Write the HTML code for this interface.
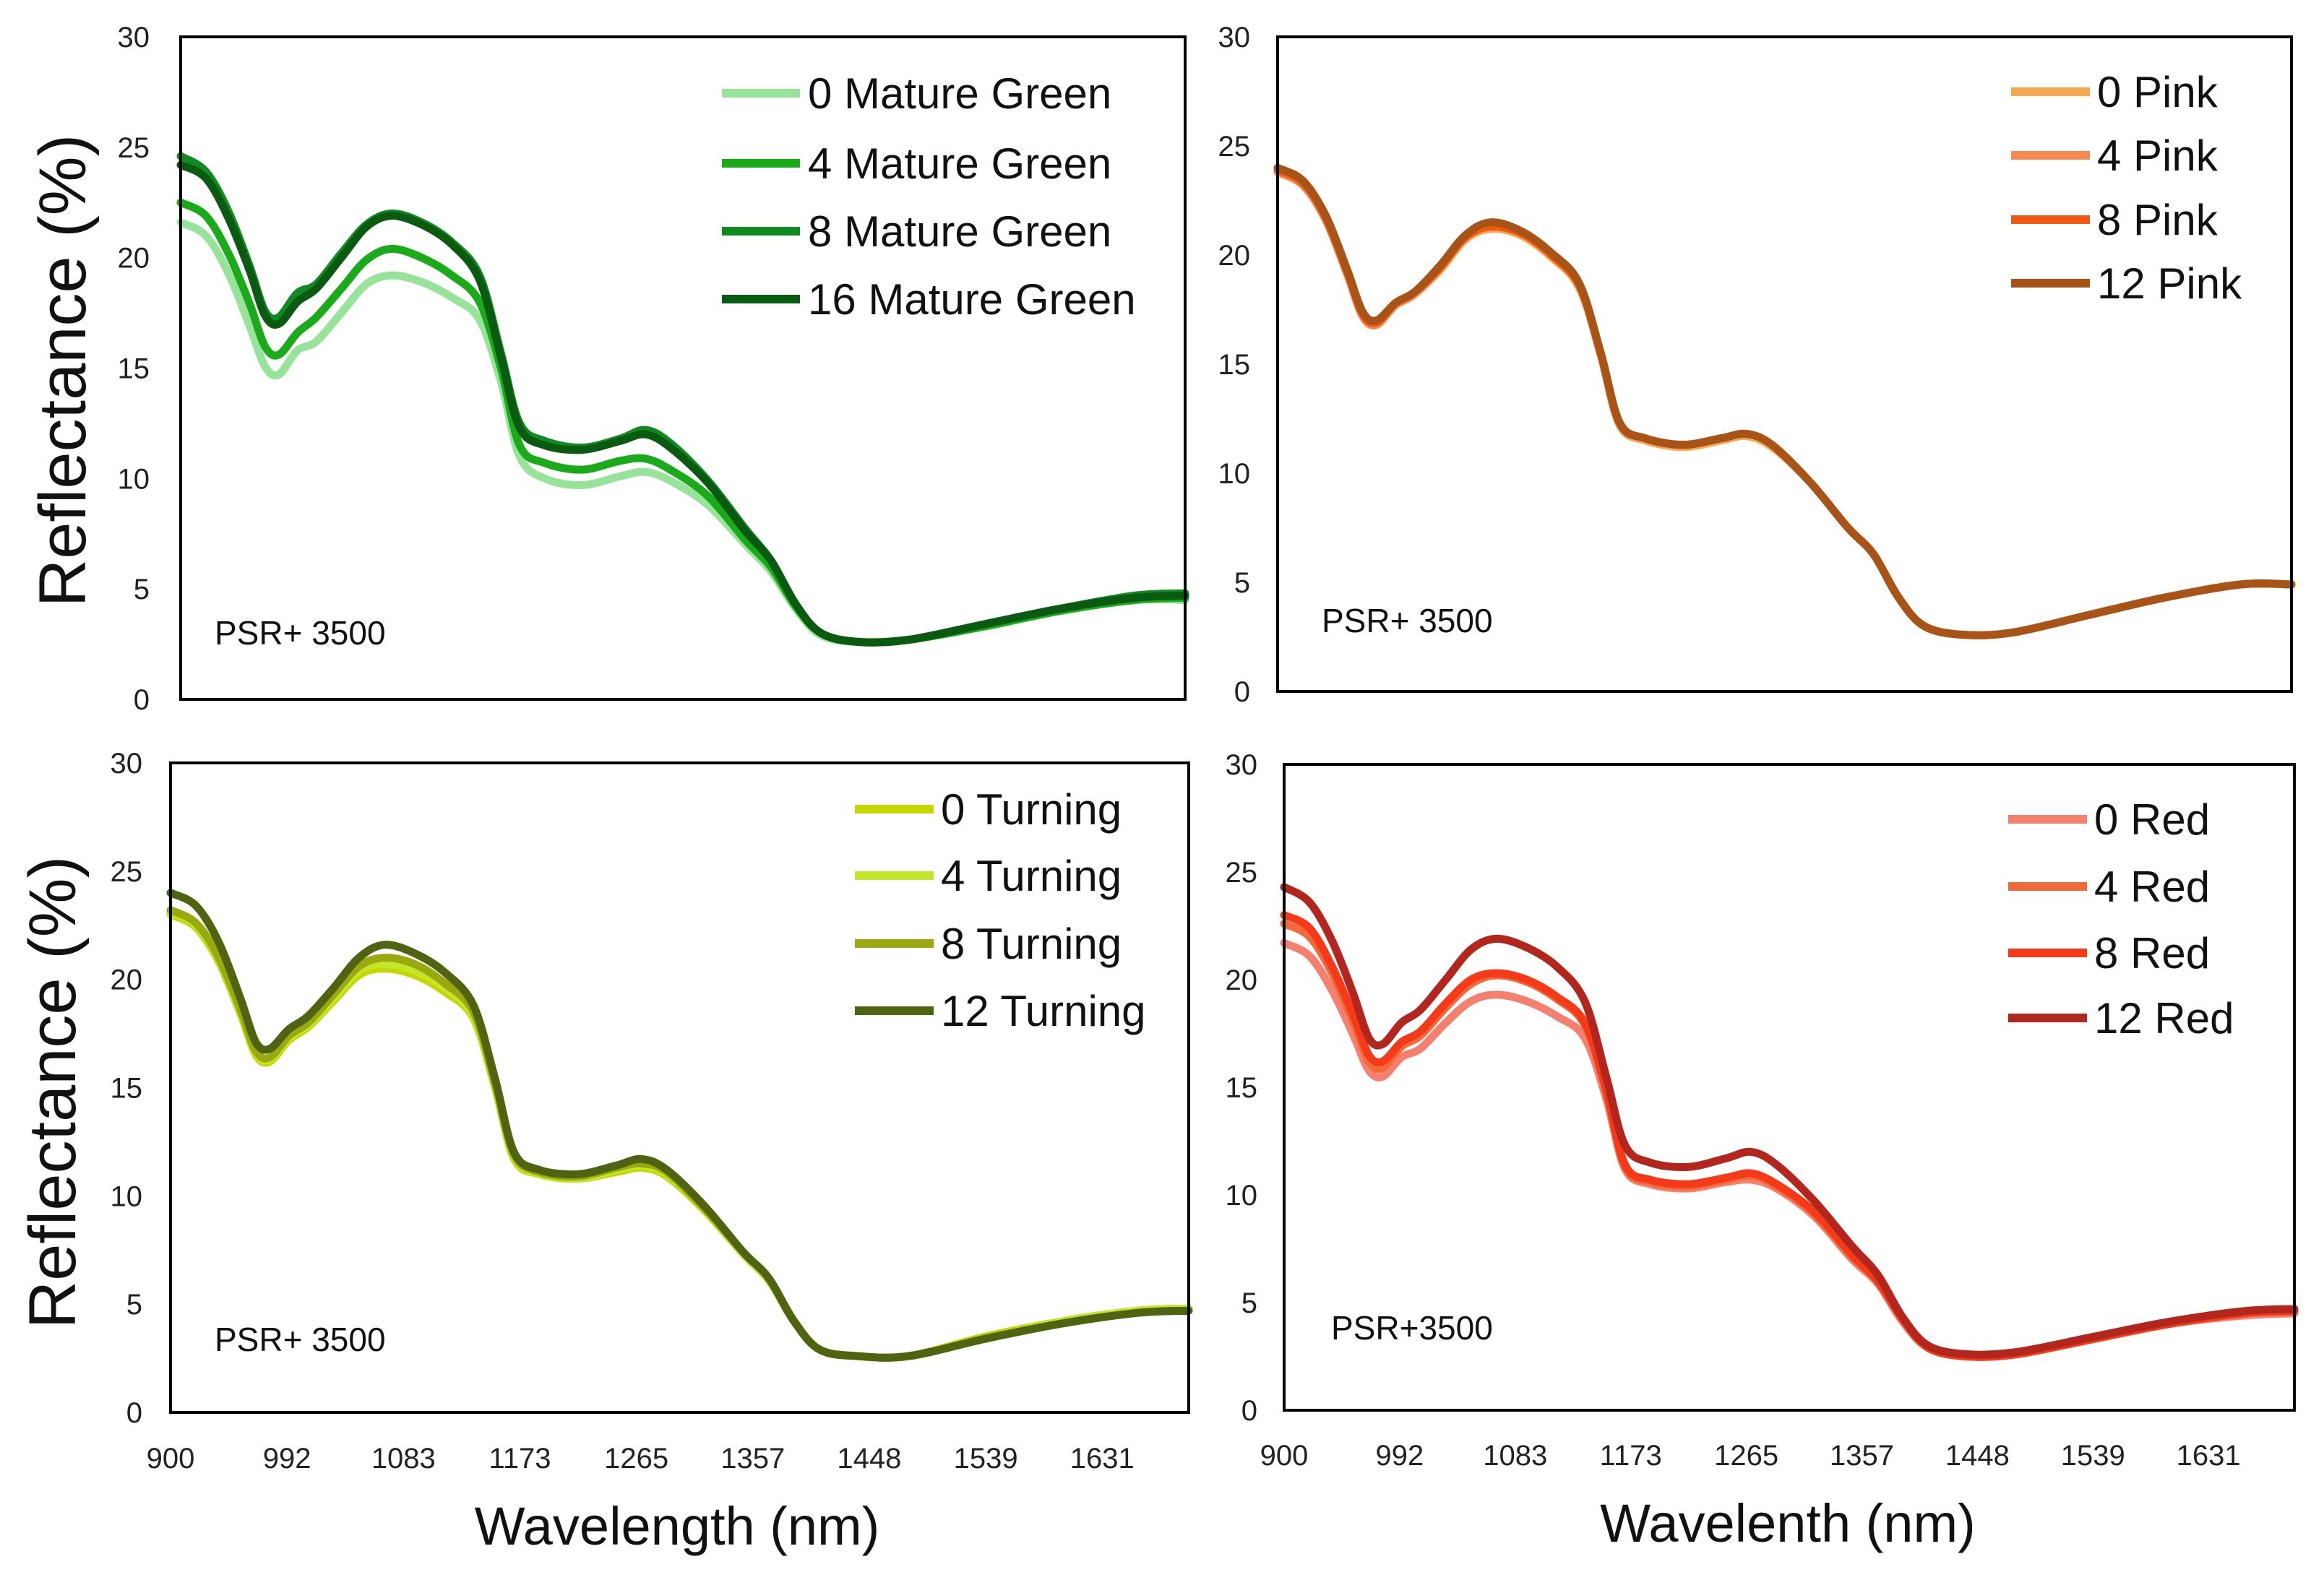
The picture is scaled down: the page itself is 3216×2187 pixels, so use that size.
<!DOCTYPE html>
<html><head><meta charset="utf-8">
<style>
html,body{margin:0;padding:0;background:#fff;}
svg{display:block;}
text{font-family:"Liberation Sans",sans-serif;}
.nar{font-family:"Liberation Sans Narrow","Liberation Sans",sans-serif;}
</style></head>
<body>
<svg id="fig" width="3216" height="2187" viewBox="0 0 3216 2187" xmlns="http://www.w3.org/2000/svg"></svg>
<script>
const wavelengths = [900,920,938,955,967,978,993,1008,1028,1048,1068,1092,1116,1138,1155,1170,1190,1220,1250,1270,1290,1320,1350,1370,1390,1410,1440,1480,1540,1600,1660,1700];
const xTickLabels = ["900","992","1083","1173","1265","1357","1448","1539","1631"];
const xTickValues = [900,991.5,1083,1174.5,1266,1357.5,1449,1540.5,1632];
const yTicks = [0,5,10,15,20,25,30];

const mgNames = ["0 Mature Green","4 Mature Green","8 Mature Green","16 Mature Green"];
const mg0 = [21.6,21.0,19.3,16.9,15.1,14.7,15.8,16.2,17.5,18.8,19.2,18.9,18.2,17.2,14.4,11.0,10.0,9.7,10.1,10.3,9.9,8.8,7.0,5.8,4.1,2.9,2.6,2.7,3.3,4.0,4.5,4.5];
const mg4 = [22.5,21.9,20.2,17.9,16.0,15.6,16.6,17.3,18.6,19.9,20.4,20.0,19.2,18.0,15.0,11.5,10.7,10.4,10.8,10.9,10.4,9.2,7.2,6.0,4.2,3.0,2.6,2.7,3.3,4.0,4.5,4.6];
const mg8 = [24.6,23.9,22.1,19.6,17.6,17.3,18.4,18.8,20.2,21.5,22.0,21.6,20.7,19.2,15.7,12.5,11.7,11.4,11.8,12.2,11.6,9.9,7.7,6.3,4.3,3.0,2.6,2.7,3.4,4.1,4.7,4.8];
const mg16 = [24.2,23.6,21.8,19.4,17.4,17.0,18.0,18.6,20.0,21.4,21.9,21.5,20.6,19.0,15.5,12.3,11.5,11.3,11.7,12.0,11.4,9.8,7.6,6.3,4.3,3.0,2.6,2.7,3.4,4.1,4.6,4.7];

const pkNames = ["0 Pink","4 Pink","8 Pink","12 Pink"];
const pk0 = [23.8,23.2,21.6,19.1,17.2,16.8,17.7,18.2,19.3,20.7,21.2,20.9,19.9,18.5,15.4,12.2,11.5,11.2,11.5,11.7,11.2,9.6,7.5,6.3,4.3,3.0,2.6,2.7,3.5,4.3,4.9,4.9];
const pk4 = [23.8,23.2,21.6,19.1,17.2,16.8,17.7,18.2,19.4,20.8,21.3,21.0,20.0,18.6,15.4,12.2,11.6,11.3,11.6,11.8,11.3,9.6,7.5,6.3,4.3,3.0,2.6,2.7,3.5,4.3,4.9,4.9];
const pk8 = [23.9,23.3,21.7,19.2,17.3,16.9,17.8,18.3,19.4,20.8,21.3,21.0,20.0,18.6,15.5,12.3,11.6,11.3,11.6,11.8,11.3,9.6,7.5,6.3,4.3,3.0,2.6,2.7,3.5,4.3,4.9,4.9];
const pk12 = [24.0,23.4,21.8,19.3,17.4,17.0,17.8,18.3,19.5,20.9,21.5,21.1,20.1,18.7,15.5,12.3,11.6,11.3,11.6,11.8,11.3,9.6,7.5,6.3,4.3,3.0,2.6,2.7,3.5,4.3,4.9,4.9];

const tuNames = ["0 Turning","4 Turning","8 Turning","12 Turning"];
const tu0 = [23.0,22.4,20.8,18.4,16.5,16.2,17.2,17.8,19.0,20.2,20.5,20.2,19.4,18.2,15.0,11.7,11.0,10.8,11.1,11.3,10.9,9.3,7.3,6.1,4.2,2.9,2.6,2.6,3.5,4.2,4.7,4.8];
const tu4 = [23.1,22.5,20.9,18.5,16.6,16.3,17.3,17.9,19.1,20.4,20.7,20.4,19.6,18.3,15.1,11.8,11.0,10.8,11.2,11.4,11.0,9.4,7.3,6.1,4.2,2.9,2.6,2.6,3.4,4.2,4.7,4.8];
const tu8 = [23.2,22.6,21.0,18.6,16.7,16.4,17.4,18.0,19.3,20.6,21.0,20.7,19.8,18.5,15.2,11.9,11.1,10.9,11.3,11.5,11.1,9.4,7.4,6.2,4.2,2.9,2.6,2.6,3.4,4.1,4.6,4.7];
const tu12 = [24.0,23.4,21.7,19.1,17.1,16.8,17.7,18.3,19.6,21.0,21.6,21.2,20.3,18.8,15.4,12.0,11.2,11.0,11.4,11.7,11.2,9.5,7.4,6.2,4.2,2.9,2.6,2.6,3.4,4.1,4.6,4.7];

const rdNames = ["0 Red","4 Red","8 Red","12 Red"];
const rd0 = [21.7,21.1,19.5,17.4,15.8,15.5,16.4,16.8,18.0,19.0,19.3,19.0,18.3,17.3,14.5,11.2,10.5,10.3,10.6,10.7,10.3,9.0,7.0,5.9,4.1,2.9,2.5,2.6,3.3,4.0,4.4,4.5];
const rd4 = [22.6,22.0,20.3,18.0,16.2,15.9,16.9,17.4,18.7,19.8,20.2,19.9,19.1,17.9,14.8,11.3,10.6,10.4,10.7,10.9,10.4,9.1,7.1,6.0,4.2,2.9,2.5,2.6,3.3,4.0,4.5,4.6];
const rd8 = [23.0,22.4,20.6,18.3,16.5,16.2,17.1,17.6,18.9,20.0,20.3,20.0,19.2,18.0,14.9,11.4,10.7,10.5,10.8,11.0,10.5,9.2,7.2,6.0,4.2,2.9,2.5,2.6,3.3,4.0,4.5,4.6];
const rd12 = [24.3,23.6,21.8,19.3,17.3,17.0,18.0,18.6,20.0,21.4,21.9,21.5,20.6,19.0,15.5,12.3,11.5,11.3,11.7,12.0,11.4,9.7,7.6,6.3,4.3,3.0,2.6,2.7,3.4,4.1,4.6,4.7];

const NS='http://www.w3.org/2000/svg';
const svg=document.getElementById('fig');
function el(tag,attrs,parent,txt){const e=document.createElementNS(NS,tag);for(const k in attrs)e.setAttribute(k,attrs[k]);if(txt!==undefined)e.textContent=txt;(parent||svg).appendChild(e);return e;}

const panels=[
 {id:'mature-green',box:[250,51,1640,968],series:[mg0,mg4,mg8,mg16],names:mgNames,colors:['#98e39a','#1aaa1a','#118a22','#0a5a12'],
  leg:{x1:999,x2:1107,tx:1118,ys:[129,226,320,414]},psr:'PSR+ 3500',psrPos:[297,876],tickX:207,xlabels:false},
 {id:'pink',box:[1768,51,3171,957],series:[pk0,pk4,pk8,pk12],names:pkNames,colors:['#f7a84f','#f88a4f','#f05a14','#a85418'],
  leg:{x1:2783,x2:2892,tx:2902,ys:[127,215,304,392]},psr:'PSR+ 3500',psrPos:[1829,859],tickX:1730,xlabels:false},
 {id:'turning',box:[236,1056,1645,1955],series:[tu0,tu4,tu8,tu12],names:tuNames,colors:['#c6d600','#c4e62a','#98aa10','#4f6410'],
  leg:{x1:1183,x2:1292,tx:1302,ys:[1120,1212,1306,1399]},psr:'PSR+ 3500',psrPos:[297,1854],tickX:197,xlabels:true,xlabY:2032},
 {id:'red',box:[1777,1058,3175,1952],series:[rd0,rd4,rd8,rd12],names:rdNames,colors:['#f58070','#f26a3a','#f53a1a','#b3261e'],
  leg:{x1:2779,x2:2888,tx:2898,ys:[1134,1227,1319,1409]},psr:'PSR+3500',psrPos:[1842,1838],tickX:1740,xlabels:true,xlabY:2028}
];

function pathFrom(pts){
  let d='M'+pts[0][0].toFixed(1)+','+pts[0][1].toFixed(1);
  for(let i=0;i<pts.length-1;i++){
    const p0=pts[Math.max(0,i-1)],p1=pts[i],p2=pts[i+1],p3=pts[Math.min(pts.length-1,i+2)];
    const c1x=p1[0]+(p2[0]-p0[0])/6,c1y=p1[1]+(p2[1]-p0[1])/6;
    const c2x=p2[0]-(p3[0]-p1[0])/6,c2y=p2[1]-(p3[1]-p1[1])/6;
    d+=' C'+c1x.toFixed(1)+','+c1y.toFixed(1)+' '+c2x.toFixed(1)+','+c2y.toFixed(1)+' '+p2[0].toFixed(1)+','+p2[1].toFixed(1);
  }
  return d;
}

panels.forEach(p=>{
  const [L,T,R,B]=p.box;
  const g=el('g',{});
  
  
  const xs=v=>L+(v-900)/(1700-900)*(R-L);
  const ys=v=>B-(v/30)*(B-T);
  yTicks.forEach(t=>{
    const tx=el('text',{x:p.tickX,y:ys(t)+14,'text-anchor':'end','font-size':40,fill:'#222',class:'nar'},g,String(t));
    
    
  });
  if(p.xlabels){
    xTickValues.forEach((v,i)=>{
      const tx=el('text',{x:xs(v),y:p.xlabY,'text-anchor':'middle','font-size':40,fill:'#222',class:'nar'},g,xTickLabels[i]);
      
      
    });
  }
  p.series.forEach((s,si)=>{
    const pts=wavelengths.map((w,i)=>[xs(w),ys(s[i])]);
    const path=el('path',{d:pathFrom(pts),fill:'none',stroke:p.colors[si],'stroke-width':11,'stroke-linejoin':'round','stroke-linecap':'round'},g);
    
    
  });
  const frame=el('rect',{x:L,y:T,width:R-L,height:B-T,fill:'none',stroke:'#000','stroke-width':4},g);
  
  
  p.names.forEach((n,i)=>{
    const y=p.leg.ys[i];
    const ln=el('line',{x1:p.leg.x1,x2:p.leg.x2,y1:y,y2:y,stroke:p.colors[i],'stroke-width':12},g);
    
    
    const tx=el('text',{x:p.leg.tx,y:y+21,'font-size':60,fill:'#111',class:'nar'},g,n);
    
    
  });
  const ps=el('text',{x:p.psrPos[0],y:p.psrPos[1]+16,'font-size':46,fill:'#111',class:'nar'},g,p.psr);
  
  
});

const yt1=el('text',{x:0,y:0,transform:'translate(118,513) rotate(-90)','text-anchor':'middle','font-size':92,fill:'#111'},svg,'Reflectance (%)');


const yt2=el('text',{x:0,y:0,transform:'translate(104,1512) rotate(-90)','text-anchor':'middle','font-size':92,fill:'#111'},svg,'Reflectance (%)');


const xt1=el('text',{x:937,y:2138,'text-anchor':'middle','font-size':74,fill:'#111',class:'nar'},svg,'Wavelength (nm)');


const xt2=el('text',{x:2474,y:2134,'text-anchor':'middle','font-size':74,fill:'#111',class:'nar'},svg,'Wavelenth (nm)');


</script>
</body></html>
